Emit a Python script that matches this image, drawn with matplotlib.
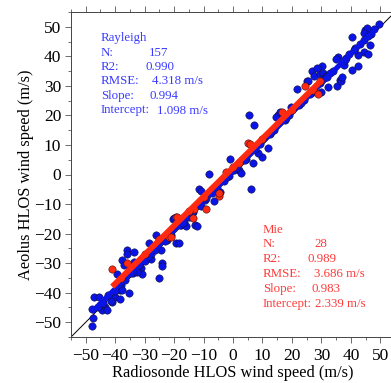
import matplotlib
matplotlib.use("Agg")
import matplotlib.pyplot as plt
import numpy as np

plt.rcParams['font.family'] = ['Liberation Serif', 'DejaVu Serif']

# Rayleigh (blue) points: radiosonde x, Aeolus y
ray_x = [-47.8, -47.6, -47.8, -47.3, -45.6, -44.4, -43.3, -45.0, -41.2, -40.1,
         -39.5, -37.6, -37.0, -35.9, -36.0, -33.6, -33.6, -35.3, -38.2, -38.0,
         -38.5, -32.4, -31.3, -31.8, -30.9, -28.5, -26.0, -24.0, -25.1, -21.0,
         -19.4, -18.2, -42.7, -41.4, -37.6, -32.5, -27.9, -24.5, -24.0, -22.3,
         -20.3, -17.7, -20.0, -16.0, -12.8, -12.2, -10.7, -11.4, -11.0, -8.0,
         -6.3, -4.4, -1.0, 2.0, 2.8, 6.2, 6.8, 10.0, 11.9, 8.4,
         5.6, 7.0, 15.3, 14.5, 16.0, 19.6, 21.8, 25.0, 26.7, 25.3,
         27.5, 29.5, 30.1, 28.5, 30.5, 31.0, 31.5, 32.3, 30.0, 29.6,
         36.3, 35.4, 36.8, 37.0, 35.6, 34.9, 37.7, 40.3, 42.6, 40.3,
         44.5, 46.6, 44.9, 45.5, 44.4, 49.4, 44.5, 45.7, 42.5, 47.0,
         -46.0, -44.0, -42.5, -40.0, -38.8, -36.5, -34.0, -32.0, -30.0, -28.0,
         -26.5, -23.0, -21.5, -18.0, -16.5, -15.0, -13.5, -9.5, -7.0, -5.5,
         -3.0, -1.5, 0.5, 3.5, 4.5, 7.5, 9.0, 12.5, 14.0, 17.5,
         19.0, 22.5, 24.0, 27.0, 33.0, 34.0, 38.5, 39.5, 41.5, 43.0,
         -17.0, -14.0, -9.0, -2.0, 1.0, 4.0, 13.0, 18.0, 23.0, 26.0,
         32.0, 38.0, 41.0, 46.0, 48.0, -29.0, -34.5]
ray_y = [-51.4, -48.4, -45.5, -41.4, -41.4, -45.9, -45.0, -44.0, -43.1, -41.4,
         -33.7, -29.0, -30.6, -25.6, -27.0, -26.2, -29.6, -40.0, -39.2, -37.5,
         -42.0, -32.0, -31.8, -30.7, -33.7, -23.3, -20.5, -29.9, -35.0, -20.5,
         -23.3, -23.3, -45.9, -42.9, -39.2, -33.0, -28.6, -25.4, -31.0, -22.2,
         -15.2, -17.1, -14.8, -17.5, -17.1, -17.5, -10.6, -5.0, -5.7, 0.2,
         -8.8, -5.8, 5.1, 1.5, 0.4, -4.9, 4.0, 6.0, 8.9, 7.2,
         20.2, 16.8, 20.2, 19.5, 21.0, 22.8, 28.9, 31.7, 34.9, 31.8,
         33.5, 34.0, 36.6, 36.0, 34.5, 32.5, 33.5, 29.6, 28.0, 31.0,
         32.1, 29.9, 31.5, 33.0, 39.9, 39.0, 37.1, 35.2, 36.6, 46.5,
         45.6, 43.9, 49.0, 49.6, 48.0, 51.0, 41.3, 40.8, 40.5, 47.5,
         -44.8, -43.5, -40.8, -39.5, -37.2, -35.8, -33.5, -30.5, -29.2, -26.8,
         -25.5, -22.5, -20.8, -17.2, -16.0, -14.5, -12.8, -8.5, -6.2, -4.5,
         -2.2, -0.5, 1.6, 4.8, 5.3, 8.6, 10.2, 13.8, 15.1, 18.6,
         20.3, 23.5, 25.2, 28.0, 34.2, 35.1, 39.4, 40.8, 42.7, 44.1,
         -16.5, -12.9, -7.8, -1.0, 2.1, 5.0, 14.3, 19.0, 24.1, 27.1,
         33.0, 38.9, 42.2, 47.0, 49.2, -27.9, -33.4]

# Mie (red) points
mie_x = [-41.2, -35.9, -25.0, -21.7, -21.1, -19.4, -19.1, -13.1, -13.5, -9.2,
         -4.9, -4.6, -2.3, 5.0, 5.9, 16.5, 24.4, 27.0, 28.9, 29.7,
         -30.0, -15.0, -10.0, 0.0, 10.0, 20.0, -38.0, 2.0]
mie_y = [-32.0, -29.9, -21.8, -21.3, -21.1, -14.5, -14.3, -11.8, -14.8, -11.7,
         -7.3, -6.2, 0.9, 10.6, 10.2, 21.0, 30.0, 28.6, 27.2, 31.5,
         -27.0, -12.5, -7.5, 2.5, 12.0, 22.0, -35.0, 4.0]

# Fit parameters
ray_slope, ray_icpt = 0.994, 1.098
mie_slope, mie_icpt = 0.983, 2.339
ray_range = [-48, 49]
mie_range = [-41, 29.7]

ray_labels = ["N:", "R2:", "RMSE:", "Slope:", "Intercept:"]
ray_values = ["157", "0.990", "4.318 m/s", "0.994", "1.098 m/s"]
mie_labels = ["N:", "R2:", "RMSE:", "Slope:", "Intercept:"]
mie_values = ["28", "0.989", "3.686 m/s", "0.983", "2.339 m/s"]

W, H = 391, 383
fig = plt.figure(figsize=(W / 100, H / 100), dpi=100)
ax = fig.add_axes([71 / W, (H - 337) / H, (395 - 71) / W, (337 - 12) / H])

blue = '#0a14e6'
red = '#ff2a10'

ax.plot([-55, 55], [-55, 55], color='black', lw=0.7, zorder=1)
ax.scatter(ray_x, ray_y, s=28, color=blue, edgecolors='#101040', linewidths=0.4, zorder=2)
rx = np.array(ray_range)
ax.plot(rx, ray_slope * rx + ray_icpt, color=blue, lw=3.6, zorder=3, solid_capstyle='butt')
ax.scatter(mie_x, mie_y, s=28, color=red, edgecolors='#401010', linewidths=0.4, zorder=4)
mx = np.array(mie_range)
ax.plot(mx, mie_slope * mx + mie_icpt, color=red, lw=4.2, zorder=5, solid_capstyle='butt')

ax.set_xlim(-55, 55)
ax.set_ylim(-55, 55)
ticks = list(range(-50, 51, 10))
ax.set_xticks(ticks)
ax.set_yticks(ticks)
ax.set_xticks(list(range(-55, 56, 5)), minor=True)
ax.set_yticks(list(range(-55, 56, 5)), minor=True)
ax.tick_params(which='both', direction='out', top=True, right=True, labelsize=12.5,
               width=0.6, color='#555555')
ax.tick_params(which='major', length=4)
ax.tick_params(axis='x', which='major', pad=4)
ax.tick_params(axis='y', which='major', pad=3)
ax.tick_params(which='minor', length=2.5)
for sp in ax.spines.values():
    sp.set_linewidth(0.7)
    sp.set_color('#444444')

ax.set_xlabel("Radiosonde HLOS wind speed (m/s)", fontsize=11.8, labelpad=0.5)
ax.set_ylabel("Aeolus HLOS wind speed (m/s)", fontsize=11.8, labelpad=0)

tb = '#3a3aff'
tr = '#ff3a3a'
fs = 9.3
fig.text(101 / W, 1 - 38 / H, "Rayleigh", color=tb, fontsize=fs, va='center')
ray_vx = [149, 145, 152, 150, 157]
for i, (lab, val) in enumerate(zip(ray_labels, ray_values)):
    yy = 1 - (52.5 + 14.5 * i) / H
    fig.text(101 / W, yy, lab, color=tb, fontsize=fs, va='center')
    fig.text(ray_vx[i] / W, yy, val, color=tb, fontsize=fs, va='center')

fig.text(263 / W, 1 - 230 / H, "Mie", color=tr, fontsize=fs, va='center')
mie_vx = [314, 307, 314, 312, 315]
for i, (lab, val) in enumerate(zip(mie_labels, mie_values)):
    yy = 1 - (244 + 15 * i) / H
    fig.text(263 / W, yy, lab, color=tr, fontsize=fs, va='center')
    fig.text(mie_vx[i] / W, yy, val, color=tr, fontsize=fs, va='center')

fig.savefig("out.png", dpi=100)
